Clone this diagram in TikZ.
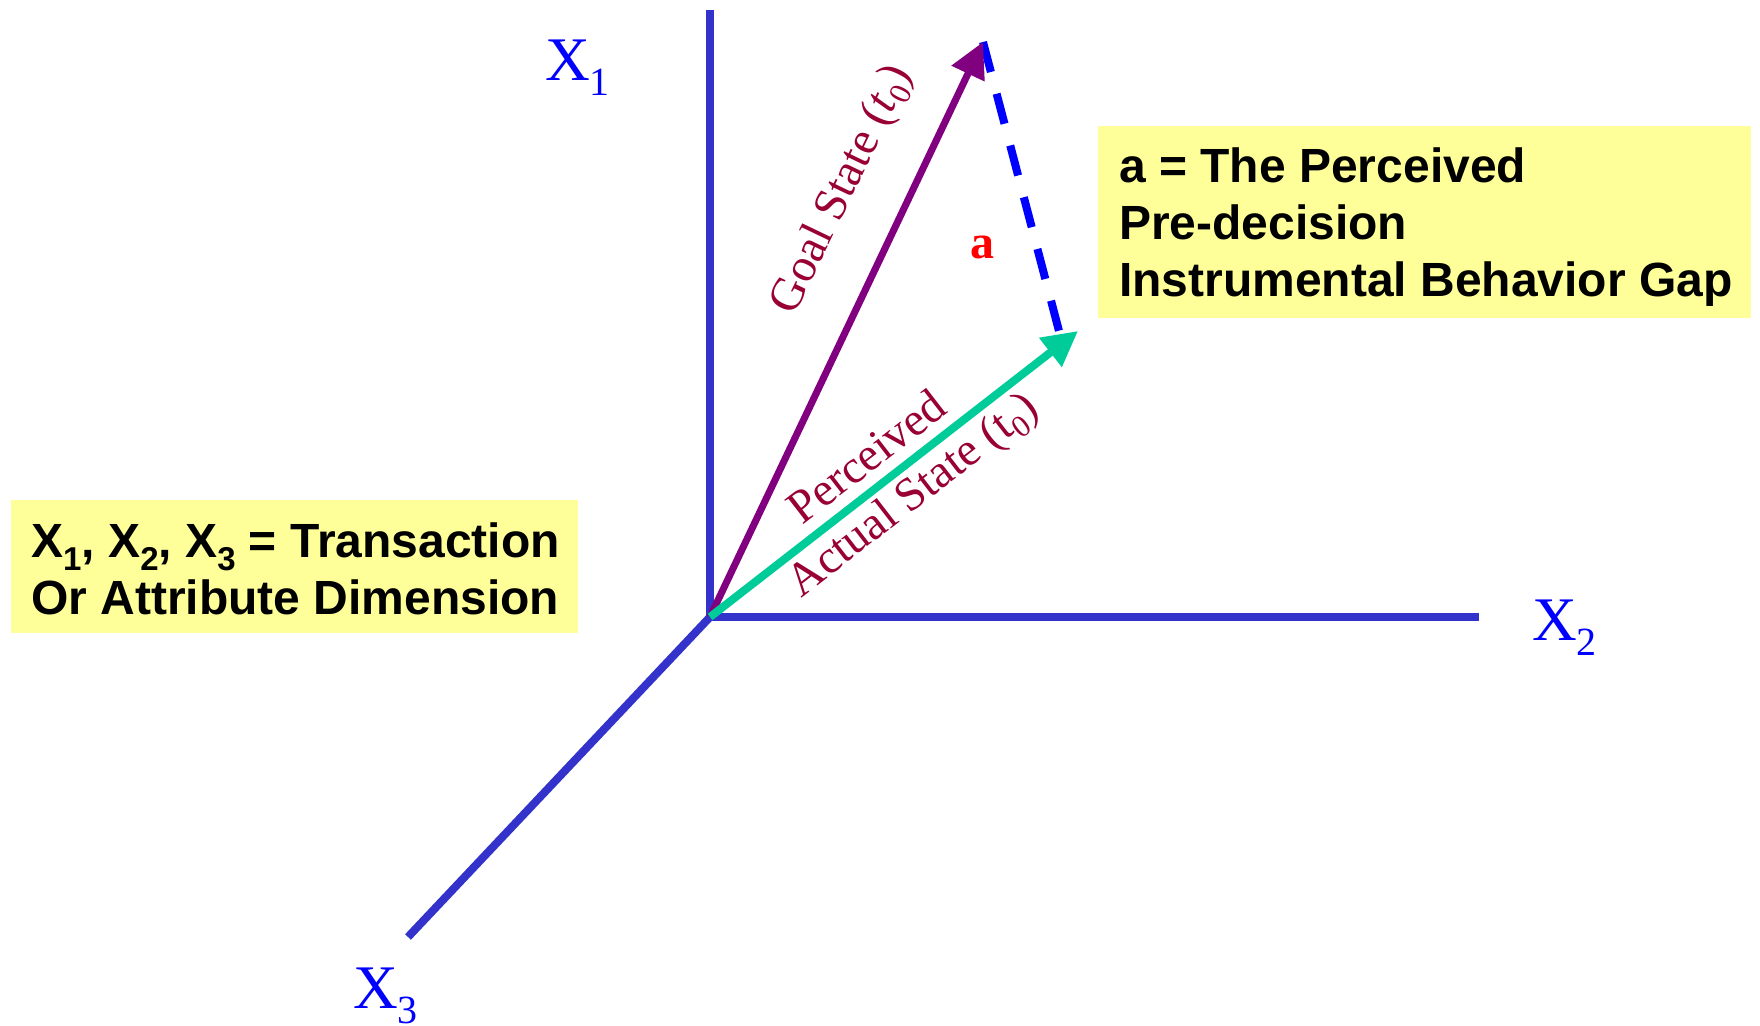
\documentclass[tikz,border=0pt]{standalone}
\usepackage{fontspec}
\setmainfont{Liberation Serif}
\newfontfamily\arialfont{Liberation Sans}
\usetikzlibrary{arrows.meta}
\definecolor{axisblue}{RGB}{51,51,204}
\definecolor{goalpurple}{RGB}{128,0,128}
\definecolor{actgreen}{RGB}{0,204,153}
\definecolor{labred}{RGB}{153,0,51}
\definecolor{boxyellow}{RGB}{255,255,153}
\definecolor{pureblue}{RGB}{0,0,255}
\newcommand\axsub[1]{\raisebox{-15pt}{\fontsize{40}{40}\selectfont #1}}
\newcommand\boxsub[1]{\raisebox{-13pt}{\fontsize{33}{33}\selectfont #1}}
\newcommand\labsub[1]{\raisebox{-9pt}{\fontsize{31}{31}\selectfont #1}}
\tikzset{
  axisline/.style={draw=axisblue, line width=8pt, line cap=butt, line join=miter},
  goalarrow/.style={draw=goalpurple, line width=7pt, -{Triangle[length=35pt,width=35pt]}},
  actarrow/.style={draw=actgreen, line width=8pt, -{Triangle[length=35pt,width=35pt]}},
  gapline/.style={draw=pureblue, line width=8pt, dash pattern=on 31pt off 22.5pt},
  axislabel/.style={text=pureblue, inner sep=0pt, anchor=base west, font=\fontsize{62}{62}\selectfont},
  veclabel/.style={text=labred, inner sep=0pt, font=\fontsize{47}{47}\selectfont},
  notebox/.style={fill=boxyellow, draw=none},
  notetext/.style={inner sep=0pt, anchor=base west, font=\arialfont\bfseries\fontsize{48}{57}\selectfont}
}
\begin{document}
\begin{tikzpicture}[x=1pt,y=-1pt]
\useasboundingbox (0,0) rectangle (1760,1025);
% yellow boxes
\fill[notebox] (1098,126) rectangle (1751,318);
\fill[notebox] (11,500) rectangle (578,633);
\node[notetext] (n1) at (1119,182) {a = The Perceived};
\node[notetext] (n2) at (1119,239) {Pre-decision};
\node[notetext] (n3) at (1119,296) {Instrumental Behavior Gap};
\node[notetext] (m1) at (31,557) {X\boxsub{1}, X\boxsub{2}, X\boxsub{3} = Transaction};
\node[notetext] (m2) at (31,614) {Or Attribute Dimension};
% points
\coordinate (O) at (710,617);
\coordinate (X1end) at (710,10);
\coordinate (X2end) at (1479,617);
\coordinate (X3end) at (408,937);
\coordinate (G) at (983,42);
\coordinate (P) at (1078,331);
\coordinate (Dend) at (1059,331);
% axes
\draw[axisline] (X1end) -- (O) -- (X2end);
\draw[axisline] (O) -- (X3end);
% vectors
\draw[gapline] (G) -- (Dend);
\draw[goalarrow] (O) -- (G);
\draw[actarrow] (O) -- (P);
% labels
\node[axislabel] (x1) at (545,81) {X\axsub{1}};
\node[axislabel] (x2) at (1532,640) {X\axsub{2}};
\node[axislabel] (x3) at (353,1008) {X\axsub{3}};
\node[text=red, inner sep=0pt, font=\bfseries\fontsize{48}{48}\selectfont] (a) at (982,247) {a};
\node[veclabel, rotate=64.4] (gl) at (843,190) {Goal State (\textit{t}\labsub{0})};
\node[veclabel, rotate=37.7] (pl) at (866,456) {Perceived};
\node[veclabel, rotate=37.7] (al) at (914,497) {Actual State (t\labsub{0})};
\end{tikzpicture}
\end{document}
